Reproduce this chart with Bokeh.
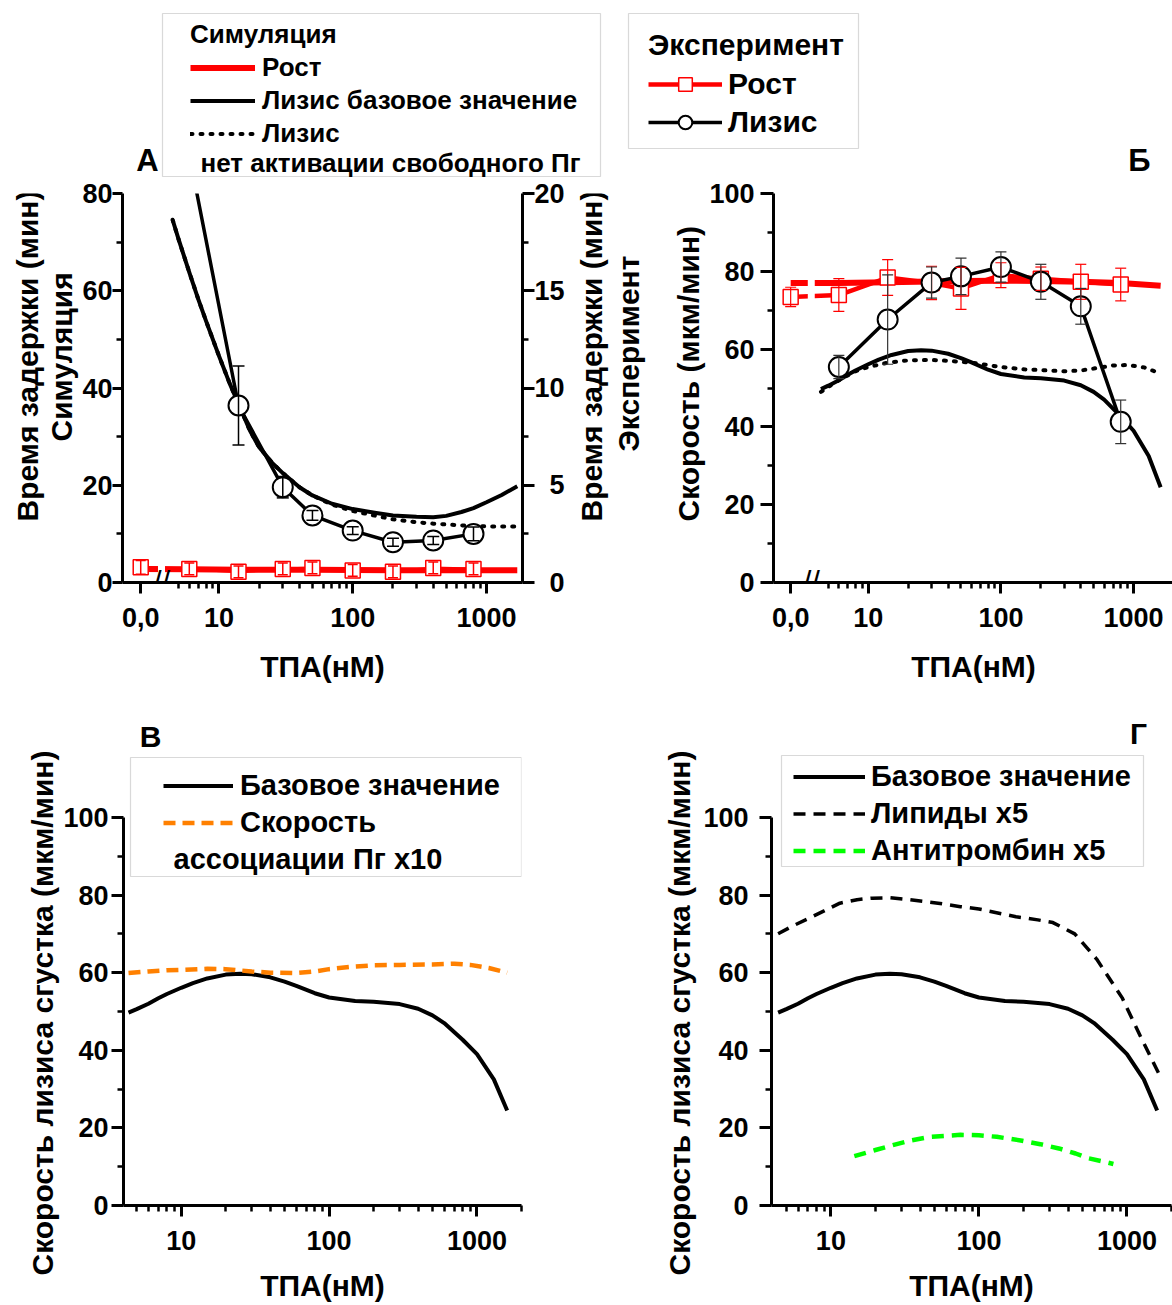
import numpy as np
from bokeh.plotting import figure
from bokeh.models import (Range1d, LinearAxis, FixedTicker, ColumnDataSource, Whisker,
                          TeeHead, Legend, LegendItem, Label, BoxAnnotation)
from bokeh.layouts import row, column
from bokeh.embed import file_html
from bokeh.resources import INLINE

FONT = "Liberation Sans"

# ------------------------------------------------------------------ data
# TPA concentrations (nM); 0 is drawn at the "0,0" position left of the axis break
tpa_exp = [0, 6, 14, 30, 50, 100, 200, 400, 800]
tpa_lys_exp = [6, 14, 30, 50, 100, 200, 400, 800]

# Panel A - simulation (left axis, min)
a_sim_growth_x = [0, 6, 14, 30, 50, 100, 200, 400, 800, 1700]
a_sim_growth_y = [2.8, 2.7, 2.6, 2.6, 2.6, 2.55, 2.5, 2.5, 2.5, 2.5]
a_sim_lysis_x = [4.5, 5, 6, 7, 8, 10, 12, 14, 17, 20, 25, 30, 40, 50, 70, 100, 150,
                 200, 300, 400, 500, 650, 800, 1000, 1300, 1700]
a_sim_lysis_y = [74.6, 70.5, 63.8, 58.3, 53.8, 46.6, 41.0, 36.7, 31.3, 27.8, 24.6, 22.5,
                 19.6, 17.9, 16.2, 15.1, 14.3, 13.8, 13.5, 13.4, 13.7, 14.5, 15.3, 16.5,
                 18.0, 19.8]
a_sim_nofree_x = [4.5, 5, 6, 7, 8, 10, 12, 14, 17, 20, 25, 30, 40, 50, 70, 100, 150,
                  200, 300, 400, 600, 800, 1200, 1700]
a_sim_nofree_y = [74.6, 70.5, 63.8, 58.3, 53.8, 46.6, 41.0, 36.7, 31.3, 27.8, 24.6, 22.5,
                  19.6, 17.9, 16.0, 14.7, 13.7, 13.0, 12.4, 12.1, 11.8, 11.6, 11.5, 11.5]
# Panel A - experiment (right axis, min)
a_exp_growth_y = [0.78, 0.70, 0.55, 0.70, 0.75, 0.62, 0.55, 0.75, 0.70]
a_exp_growth_err = [0.35, 0.3, 0.3, 0.3, 0.3, 0.3, 0.3, 0.3, 0.3]
a_exp_lysis_y = [22.0, 9.1, 4.9, 3.45, 2.67, 2.07, 2.16, 2.5]
a_exp_lysis_err = [0.0, 2.03, 0.55, 0.25, 0.2, 0.2, 0.2, 0.35]

# Base-value lysis rate (panels Б, В, Г), um/min
base_x = [4.4, 5, 6, 7, 8, 10, 12, 15, 20, 25, 30, 40, 50, 60, 80, 100, 150, 200, 300,
          400, 500, 600, 800, 1000, 1300, 1600]
base_y = [49.7, 50.6, 52.0, 53.4, 54.5, 56.1, 57.3, 58.5, 59.5, 59.7, 59.6, 58.8, 57.7,
          56.6, 54.7, 53.6, 52.7, 52.5, 51.9, 50.7, 49.0, 47.0, 42.7, 39.0, 32.5, 24.5]

# Panel Б
b_sim_growth_x = [0, 6, 14, 30, 50, 100, 200, 400, 800, 1600]
b_sim_growth_y = [77.0, 77.0, 77.2, 77.4, 77.5, 77.6, 77.5, 77.3, 77.0, 76.3]
b_sim_nofree_x = [4.4, 5, 6, 8, 10, 14, 20, 30, 40, 60, 100, 150, 200, 300, 400, 500,
                  700, 900, 1200, 1600]
b_sim_nofree_y = [49.0, 50.3, 52.0, 54.3, 55.4, 56.5, 57.1, 57.2, 57.0, 56.5, 55.4, 54.8,
                  54.6, 54.3, 54.5, 55.0, 55.8, 55.9, 55.3, 53.7]
b_exp_growth_y = [73.4, 73.9, 78.4, 77.0, 75.6, 79.0, 78.1, 77.3, 76.6]
b_exp_growth_err = [2.5, 4.2, 4.6, 4.3, 5.4, 3.2, 3.0, 4.5, 4.2]
b_exp_lysis_y = [55.4, 67.6, 77.1, 78.7, 81.1, 77.3, 71.0, 41.3]
b_exp_lysis_err = [3.0, 11.5, 4.0, 4.7, 3.9, 4.5, 4.6, 5.6]

# Panel В - Pg association rate x10
c_assoc_x = [4.4, 6, 8, 10, 15, 20, 30, 40, 60, 80, 100, 150, 200, 300, 500, 700, 900,
             1200, 1600]
c_assoc_y = [59.9, 60.3, 60.6, 60.7, 61.0, 60.9, 60.3, 60.0, 59.9, 60.3, 60.9, 61.6,
             61.9, 62.0, 62.1, 62.3, 62.0, 61.2, 60.0]

# Panel Г - lipids x5, antithrombin x5
d_lip_x = [4.4, 5.5, 7, 9, 11.5, 15, 19, 25, 32, 53, 75, 100, 178, 250, 316, 444, 624,
           929, 1233, 1637]
d_lip_y = [70.0, 72.0, 73.9, 75.9, 77.9, 78.8, 79.2, 79.3, 78.9, 77.9, 77.0, 76.4, 74.4,
           73.6, 72.9, 70.0, 63.5, 53.5, 43.6, 34.1]
d_at_x = [14.4, 20, 27, 35, 47.5, 75, 100, 132, 196, 260, 347, 450, 545, 700, 810]
d_at_y = [12.7, 14.3, 15.7, 16.8, 17.7, 18.2, 18.1, 17.7, 16.7, 15.8, 14.7, 13.4, 12.2,
          11.3, 10.7]

# tick labels
x_major_ticks = [10, 100, 1000]
x_minor_ticks = [5, 6, 7, 8, 9, 20, 30, 40, 50, 60, 70, 80, 90, 200, 300, 400, 500,
                 600, 700, 800, 900, 2000]

# ------------------------------------------------------------------ layout constants
ZERO_POS = 2.6     # where TPA = 0 ("0,0") sits on the log axis
BREAK_POS = 3.72   # axis break marker
RED = "#ff0000"
OFF = [-60, -50]   # off-canvas coordinates for legend-only sample renderers
TOP_H = 177        # height of the legend strip


def xpos(vals):
    return [ZERO_POS if v == 0 else v for v in vals]


def make_fig(xr, yr, fw, fh, ml, mr, mt, mb):
    p = figure(x_axis_type="log", x_range=Range1d(*xr), y_range=Range1d(*yr),
               frame_width=fw, frame_height=fh,
               min_border_left=ml, min_border_right=mr,
               min_border_top=mt, min_border_bottom=mb,
               output_backend="svg", toolbar_location=None)
    p.xgrid.visible = False
    p.ygrid.visible = False
    p.outline_line_color = None
    p.background_fill_color = "white"
    p.border_fill_color = "white"
    return p


def make_strip(x0, x1, y0, y1):
    s = figure(x_range=Range1d(x0, x1), y_range=Range1d(y1, y0),
               frame_width=x1 - x0, frame_height=y1 - y0,
               min_border_left=0, min_border_right=0, min_border_top=0,
               min_border_bottom=0, x_axis_location=None, y_axis_location=None,
               output_backend="svg", toolbar_location=None)
    s.grid.visible = False
    s.outline_line_color = None
    s.background_fill_color = "white"
    s.border_fill_color = "white"
    return s


def style_axis(ax, tick_out, minor_out, standoff):
    ax.axis_line_width = 3
    ax.axis_line_color = "black"
    ax.major_tick_line_width = 3
    ax.minor_tick_line_width = 2.5
    ax.major_tick_line_color = "black"
    ax.minor_tick_line_color = "black"
    ax.major_tick_in = 0
    ax.minor_tick_in = 0
    ax.major_tick_out = tick_out
    ax.minor_tick_out = minor_out
    ax.major_label_standoff = standoff
    ax.major_label_text_font = FONT
    ax.major_label_text_font_size = "27px"
    ax.major_label_text_font_style = "bold"
    ax.major_label_text_color = "black"
    ax.axis_label_text_font = FONT
    ax.axis_label_text_font_size = "30px"
    ax.axis_label_text_font_style = "bold"
    ax.axis_label_text_color = "black"


def setup_x(p, with_zero, label_standoff):
    ax = p.xaxis[0]
    style_axis(ax, 11, 6, 14)
    ticks = ([ZERO_POS] if with_zero else []) + x_major_ticks
    ax.ticker = FixedTicker(ticks=ticks, minor_ticks=x_minor_ticks)
    ov = {10: "10", 100: "100", 1000: "1000"}
    if with_zero:
        ov[ZERO_POS] = "0,0"
    ax.major_label_overrides = ov
    ax.axis_label = "ТПА(нМ)"
    ax.axis_label_standoff = label_standoff


def setup_y(p, ticks, minors, tick_out, standoff, bounds):
    ax = p.yaxis[0]
    style_axis(ax, tick_out, 6, standoff)
    ax.ticker = FixedTicker(ticks=ticks, minor_ticks=minors)
    ax.bounds = bounds


def add_whiskers(p, xs, ys, errs, color, y_range_name="default", cap=12, width=1.5):
    keep = [i for i, e in enumerate(errs) if e > 0]
    src = ColumnDataSource(dict(base=[xs[i] for i in keep],
                                lo=[ys[i] - errs[i] for i in keep],
                                up=[ys[i] + errs[i] for i in keep]))
    w = Whisker(source=src, base="base", upper="up", lower="lo", dimension="height",
                line_color=color, line_width=width, y_range_name=y_range_name,
                upper_head=TeeHead(size=cap, line_color=color, line_width=width),
                lower_head=TeeHead(size=cap, line_color=color, line_width=width),
                level="annotation")
    p.add_layout(w)


def label(p, x, y, text, size, units="data", angle=0.0, align="center",
          baseline="middle", style="bold"):
    p.add_layout(Label(x=x, y=y, x_units=units, y_units=units, text=text,
                       angle=angle, text_align=align, text_baseline=baseline,
                       text_font=FONT, text_font_size=size, text_font_style=style,
                       text_color="black"))


def vlabel(p, x, y_bottom, text):
    # rotated axis title, reading upwards, starting at y_bottom
    label(p, x, y_bottom, text, "30px", angle=np.pi / 2, align="left")


def box(p, l, r, t, b, units="data"):
    p.add_layout(BoxAnnotation(left=l, right=r, top=t, bottom=b,
                               left_units=units, right_units=units,
                               top_units=units, bottom_units=units,
                               fill_color=None, fill_alpha=0,
                               line_color="#808080", line_width=1.2))


def make_legend(items, loc, size, gw, gh, standoff, spacing, title=None, title_standoff=5):
    kw = {}
    if title is not None:
        kw = dict(title=title, title_text_font=FONT, title_text_font_size=size,
                  title_text_font_style="bold", title_standoff=title_standoff,
                  title_text_color="black")
    return Legend(items=items, location=loc, orientation="vertical",
                  label_text_font=FONT, label_text_font_size=size,
                  label_text_font_style="bold", label_text_color="black",
                  glyph_width=gw, glyph_height=gh, label_height=gh,
                  label_standoff=standoff, spacing=spacing, padding=0, margin=0,
                  border_line_alpha=0, background_fill_alpha=0, **kw)


def add_break(p, ybottom):
    p.add_layout(BoxAnnotation(left=3.5, right=3.95, bottom=ybottom, fill_color="white",
                               fill_alpha=1.0, line_alpha=0))
    p.add_layout(Label(x=BREAK_POS, y=0, text="//", text_align="center",
                       text_baseline="alphabetic", text_font=FONT, text_font_size="31px",
                       text_font_style="normal", text_color="black"))


# ================================================================== top strip (legends)
top = make_strip(0, 1171, 0, TOP_H)
d_grow = top.line(OFF, OFF, line_color=RED, line_width=6)
d_lys = top.line(OFF, OFF, line_color="black", line_width=4)
d_nof = top.line(OFF, OFF, line_color="black", line_width=4, line_dash="2 8",
                 line_cap="round")
d_eg_l = top.line(OFF, OFF, line_color=RED, line_width=4.5)
d_eg_m = top.scatter(OFF, OFF, marker="square", size=15, fill_color="white",
                     line_color=RED, line_width=1.5)
d_el_l = top.line(OFF, OFF, line_color="black", line_width=3.5)
d_el_m = top.scatter(OFF, OFF, marker="circle", size=18, fill_color="white",
                     line_color="black", line_width=2)
box(top, 162, 600, 13, 176)
top.add_layout(make_legend([LegendItem(label="Рост", renderers=[d_grow]),
                            LegendItem(label="Лизис базовое значение", renderers=[d_lys]),
                            LegendItem(label="Лизис", renderers=[d_nof])],
                           (190, 28), "26px", 65, 31, 7, 2, title="Симуляция",
                           title_standoff=2))
label(top, 200, 162, "нет активации свободного Пг", "26px", align="left")
box(top, 628, 858, 13, 148)
top.add_layout(make_legend([LegendItem(label="Рост", renderers=[d_eg_l, d_eg_m]),
                            LegendItem(label="Лизис", renderers=[d_el_l, d_el_m])],
                           (648, 38), "30px", 74, 34, 6, 4, title="Эксперимент",
                           title_standoff=5))
label(top, 147, TOP_H, "А", "31px", baseline="bottom")
label(top, 1139, TOP_H, "Б", "31px", baseline="bottom")

# ================================================================== side strips (axis titles)
left_strip = make_strip(0, 79, TOP_H, 690)
vlabel(left_strip, 27, 505, "Время задержки (мин)")
vlabel(left_strip, 61, 425, "Симуляция")

mid_strip = make_strip(566, 704, TOP_H, 690)
vlabel(mid_strip, 589, 505, "Время задержки (мин)")
vlabel(mid_strip, 626, 435, "Эксперимент")
vlabel(mid_strip, 686, 505, "Скорость (мкм/мин)")

left_strip2 = make_strip(0, 60, 690, 1304)
vlabel(left_strip2, 42, 1275, "Скорость лизиса сгустка (мкм/мин)")

mid_strip2 = make_strip(520, 697, 690, 1304)
vlabel(mid_strip2, 676, 1275, "Скорость лизиса сгустка (мкм/мин)")

# ================================================================== Panel A
pA = make_fig((1.9, 1860), (0, 80), 400, 389, 41, 46, 193 - TOP_H, 108)
pA.extra_y_ranges = {"exp": Range1d(0, 20)}
setup_x(pA, True, 20)
setup_y(pA, [0, 20, 40, 60, 80], [10, 30, 50, 70], 10, 0, (0, 80))
axr = LinearAxis(y_range_name="exp")
style_axis(axr, 12, 6, 0)
axr.ticker = FixedTicker(ticks=[0, 5, 10, 15, 20], minor_ticks=[2.5, 7.5, 12.5, 17.5])
axr.major_label_overrides = {0: "\u00a0\u00a00", 5: "\u00a0\u00a05", 10: "10", 15: "15",
                             20: "20"}
pA.add_layout(axr, "right")

pA.line(xpos(a_sim_growth_x), a_sim_growth_y, line_color=RED, line_width=6,
        line_join="round")
pA.line(xpos(tpa_exp), a_exp_growth_y, y_range_name="exp", line_color=RED, line_width=3)
pA.scatter(xpos(tpa_exp), a_exp_growth_y, y_range_name="exp", marker="square", size=15,
           fill_color="white", line_color=RED, line_width=1.5)
add_whiskers(pA, xpos(tpa_exp), a_exp_growth_y, a_exp_growth_err, RED, "exp", cap=10)
pA.line(a_sim_lysis_x, a_sim_lysis_y, line_color="black", line_width=4, line_join="round")
pA.line(a_sim_nofree_x, a_sim_nofree_y, line_color="black", line_width=4,
        line_dash="2 8", line_cap="round")
pA.line(tpa_lys_exp, a_exp_lysis_y, y_range_name="exp", line_color="black",
        line_width=3.5, line_join="round")
pA.scatter(tpa_lys_exp, a_exp_lysis_y, y_range_name="exp", marker="circle", size=20,
           fill_color="white", line_color="black", line_width=2)
add_whiskers(pA, tpa_lys_exp, a_exp_lysis_y, a_exp_lysis_err, "black", "exp")
add_break(pA, 0.9)

# ================================================================== Panel Б
pB = make_fig((1.93, 2000), (0, 100), 400, 389, 64, 3, 193 - TOP_H, 108)
setup_x(pB, True, 20)
setup_y(pB, [0, 20, 40, 60, 80, 100], [10, 30, 50, 70, 90], 13, 6, (0, 100))

pB.line(xpos(b_sim_growth_x), b_sim_growth_y, line_color=RED, line_width=6,
        line_join="round")
pB.line(xpos(tpa_exp), b_exp_growth_y, line_color=RED, line_width=4.5, line_join="round")
pB.scatter(xpos(tpa_exp), b_exp_growth_y, marker="square", size=15, fill_color="white",
           line_color=RED, line_width=1.5)
add_whiskers(pB, xpos(tpa_exp), b_exp_growth_y, b_exp_growth_err, RED, cap=11, width=1.2)
pB.line(base_x, base_y, line_color="black", line_width=4, line_join="round")
pB.line(b_sim_nofree_x, b_sim_nofree_y, line_color="black", line_width=4,
        line_dash="2 8", line_cap="round")
pB.line(tpa_lys_exp, b_exp_lysis_y, line_color="black", line_width=3.5, line_join="round")
pB.scatter(tpa_lys_exp, b_exp_lysis_y, marker="circle", size=20, fill_color="white",
           line_color="black", line_width=2)
add_whiskers(pB, tpa_lys_exp, b_exp_lysis_y, b_exp_lysis_err, "#333333", cap=11,
             width=1.2)
add_break(pB, 1.0)

# ================================================================== Panel В
pC = make_fig((4.07, 2000), (0, 132.7), 398, 515, 60, 2, 0, 99)
setup_x(pC, False, 16)
setup_y(pC, [0, 20, 40, 60, 80, 100], [10, 30, 50, 70, 90], 12, 3, (0, 100))
rC_base = pC.line(base_x, base_y, line_color="black", line_width=4, line_join="round")
rC_as = pC.line(c_assoc_x, c_assoc_y, line_color="#ff8000", line_width=4.5,
                line_dash="12 7")
box(pC, 7, 398, 448, 329, units="screen")
pC.add_layout(make_legend([LegendItem(label="Базовое значение", renderers=[rC_base]),
                           LegendItem(label="Скорость", renderers=[rC_as])],
                          (40, 366), "29px", 70, 33, 7, 4))
label(pC, 50, 347, "ассоциации Пг  x10", "29px", units="screen", align="left")
label(pC, 27, 469, "В", "30px", units="screen")

# ================================================================== Panel Г
pD = make_fig((3.97, 2000), (0, 132.7), 400, 515, 71, 3, 0, 99)
setup_x(pD, False, 16)
setup_y(pD, [0, 20, 40, 60, 80, 100], [10, 30, 50, 70, 90], 12, 11, (0, 100))
rD_base = pD.line(base_x, base_y, line_color="black", line_width=4, line_join="round")
rD_lip = pD.line(d_lip_x, d_lip_y, line_color="black", line_width=3.5, line_dash="12 8")
rD_at = pD.line(d_at_x, d_at_y, line_color="#00ff00", line_width=4.5, line_dash="12 8")
box(pD, 10, 372, 450, 339, units="screen")
pD.add_layout(make_legend([LegendItem(label="Базовое значение", renderers=[rD_base]),
                           LegendItem(label="Липиды x5", renderers=[rD_lip]),
                           LegendItem(label="Антитромбин x5", renderers=[rD_at])],
                          (22, 338), "29px", 72, 33, 6, 4))
label(pD, 367, 472, "Г", "30px", units="screen")

layout = column(top,
                row(left_strip, pA, mid_strip, pB),
                row(left_strip2, pC, mid_strip2, pD))
open("out.html", "w").write(file_html(layout, INLINE))
